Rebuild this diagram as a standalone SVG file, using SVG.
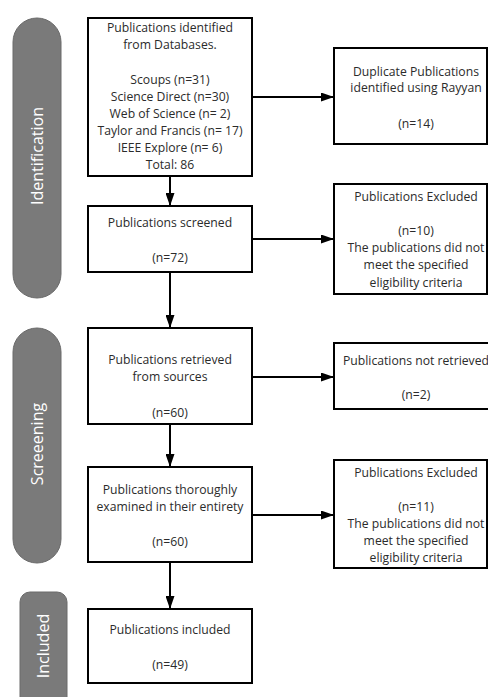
<svg xmlns="http://www.w3.org/2000/svg" width="488" height="697" viewBox="0 0 488 697">
<style>
.box{fill:#fff;stroke:#000;stroke-width:2}
.pill{fill:#7a7a7a;stroke:#6a6a6a;stroke-width:1}
.t{font-family:"Open Sans","Noto Sans",sans-serif;font-size:12.2px;fill:#2b2b2b;text-anchor:middle}
.pt{font-family:"Open Sans","Noto Sans",sans-serif;font-size:16px;fill:#fff;text-anchor:middle}
.c{stroke:#000;stroke-width:2;fill:none}
</style>
<defs>
<marker id="ah" viewBox="0 0 13 9" refX="13" refY="4.5" markerWidth="13" markerHeight="9" markerUnits="userSpaceOnUse" orient="auto">
<path d="M0,0 L13,4.5 L0,9 z" fill="#000"/>
</marker>
</defs>
<rect width="488" height="697" fill="#fff"/>
<g id="phase-identification">
<rect class="pill" x="13" y="18" width="48" height="280" rx="24" ry="24"/>
<text class="pt" transform="translate(43,156) rotate(-90)">Identification</text>
</g>
<g id="phase-screening">
<rect class="pill" x="13" y="328" width="48" height="235" rx="24" ry="24"/>
<text class="pt" transform="translate(43,444) rotate(-90)">Screeening</text>
</g>
<g id="phase-included">
<rect class="pill" x="20" y="592" width="47" height="120" rx="10" ry="10"/>
<text class="pt" transform="translate(49,646) rotate(-90)">Included</text>
</g>
<g id="connectors">
<line class="c" x1="170" y1="176" x2="170" y2="206" marker-end="url(#ah)"/>
<line class="c" x1="170" y1="272" x2="170" y2="328" marker-end="url(#ah)"/>
<line class="c" x1="170" y1="424" x2="170" y2="467" marker-end="url(#ah)"/>
<line class="c" x1="170" y1="562" x2="170" y2="609" marker-end="url(#ah)"/>
<line class="c" x1="252" y1="97" x2="334" y2="97" marker-end="url(#ah)"/>
<line class="c" x1="252" y1="239" x2="334" y2="239" marker-end="url(#ah)"/>
<line class="c" x1="252" y1="377" x2="334" y2="377" marker-end="url(#ah)"/>
<line class="c" x1="252" y1="515" x2="334" y2="515" marker-end="url(#ah)"/>
</g>
<g id="n-identified">
<rect class="box" x="88" y="18" width="164" height="158"/>
<text class="t" x="170" y="31.5">Publications identified</text>
<text class="t" x="170" y="49">from Databases.</text>
<text class="t" x="170" y="84">Scoups (n=31)</text>
<text class="t" x="170" y="101">Science Direct (n=30)</text>
<text class="t" x="170" y="118">Web of Science (n= 2)</text>
<text class="t" x="170" y="135">Taylor and Francis (n= 17)</text>
<text class="t" x="170" y="152">IEEE Explore (n= 6)</text>
<text class="t" x="170" y="169">Total: 86</text>
</g>
<g id="n-screened">
<rect class="box" x="88" y="206" width="164" height="66"/>
<text class="t" x="170" y="226.5">Publications screened</text>
<text class="t" x="170" y="261.5">(n=72)</text>
</g>
<g id="n-retrieved">
<rect class="box" x="88" y="328" width="164" height="96"/>
<text class="t" x="170" y="363.5">Publications retrieved</text>
<text class="t" x="170" y="380.5">from sources</text>
<text class="t" x="170" y="416.5">(n=60)</text>
</g>
<g id="n-examined">
<rect class="box" x="88" y="467" width="164" height="95"/>
<text class="t" x="170" y="493.5">Publications thoroughly</text>
<text class="t" x="170" y="510.5">examined in their entirety</text>
<text class="t" x="170" y="545.5">(n=60)</text>
</g>
<g id="n-included">
<rect class="box" x="88" y="609" width="164" height="74"/>
<text class="t" x="170" y="633.5">Publications included</text>
<text class="t" x="170" y="668.5">(n=49)</text>
</g>
<g id="n-duplicates">
<rect class="box" x="334" y="48" width="153" height="96"/>
<text class="t" x="416" y="75.5">Duplicate Publications</text>
<text class="t" x="416" y="91.5">identified using Rayyan</text>
<text class="t" x="416" y="127.5">(n=14)</text>
</g>
<g id="n-excluded1">
<rect class="box" x="334" y="184" width="153" height="110"/>
<text class="t" x="416" y="200.5">Publications Excluded</text>
<text class="t" x="416" y="234.5">(n=10)</text>
<text class="t" x="416" y="251.5">The publications did not</text>
<text class="t" x="416" y="268.5">meet the specified</text>
<text class="t" x="416" y="286.5">eligibility criteria</text>
</g>
<g id="n-notretrieved">
<rect class="box" x="334" y="343" width="170" height="66"/>
<text class="t" x="416" y="364.5">Publications not retrieved</text>
<text class="t" x="416" y="398.5">(n=2)</text>
</g>
<g id="n-excluded2">
<rect class="box" x="334" y="460" width="153" height="108"/>
<text class="t" x="416" y="476.5">Publications Excluded</text>
<text class="t" x="416" y="510.5">(n=11)</text>
<text class="t" x="416" y="527.5">The publications did not</text>
<text class="t" x="416" y="544.5">meet the specified</text>
<text class="t" x="416" y="561.5">eligibility criteria</text>
</g>
</svg>
